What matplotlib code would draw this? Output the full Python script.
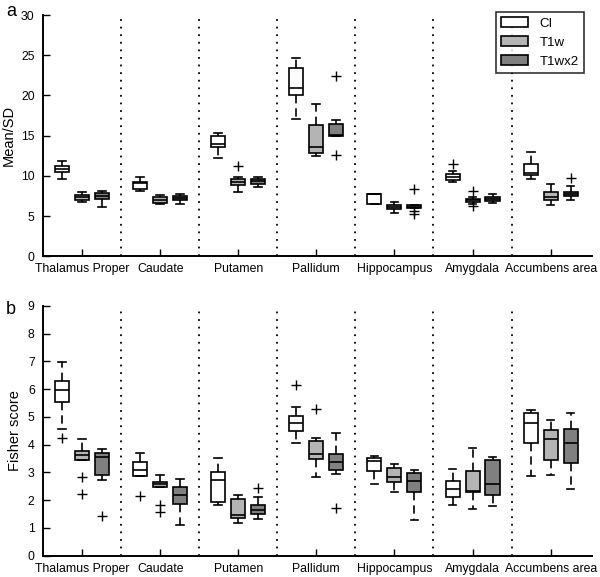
import matplotlib
matplotlib.use("Agg")
import matplotlib.pyplot as plt
from matplotlib.patches import Patch

plt.rcParams["font.family"] = ["Liberation Sans", "DejaVu Sans"]

REGIONS = ["Thalamus Proper", "Caudate", "Putamen", "Pallidum",
           "Hippocampus", "Amygdala", "Accumbens area"]
METHODS = ["CI", "T1w", "T1wx2"]
COLORS = ["#ffffff", "#b4b4b4", "#808080"]

# panel a: Mean/SD  -- rows are CI, T1w, T1wx2; columns follow REGIONS
A_WHISHI = [[11.87, 9.86, 15.35, 24.65, 7.80, 10.65, 12.93],
            [7.96, 7.59, 9.90, 18.96, 6.76, 7.42, 9.03],
            [8.09, 7.76, 9.88, 16.90, 6.35, 7.71, 8.78]]
A_Q3 = [[11.21, 9.24, 14.94, 23.40, 7.76, 10.24, 11.44],
        [7.67, 7.43, 9.60, 16.30, 6.35, 7.17, 8.00],
        [7.92, 7.51, 9.60, 16.40, 6.35, 7.42, 8.04]]
A_MED = [[10.80, 9.07, 13.98, 20.90, 7.70, 9.82, 10.32],
         [7.35, 7.06, 9.25, 13.60, 6.14, 7.00, 7.42],
         [7.55, 7.30, 9.34, 15.06, 6.18, 7.13, 7.75]]
A_Q1 = [[10.43, 8.42, 13.60, 20.10, 6.56, 9.45, 10.07],
        [7.02, 6.60, 8.92, 12.86, 5.85, 6.80, 6.96],
        [7.10, 7.06, 8.96, 14.98, 6.05, 6.88, 7.50]]
A_WHISLO = [[9.57, 8.17, 12.28, 17.05, 6.47, 9.20, 9.61],
            [6.73, 6.52, 7.97, 12.53, 5.44, 6.55, 6.38],
            [6.11, 6.48, 8.63, 14.90, 5.95, 6.59, 6.96]]
A_FLIERS = [[[], [], [], [], [], [11.44], []],
            [[], [], [11.2], [], [], [8.15, 6.30], []],
            [[], [], [], [22.37, 12.6], [8.42, 5.64, 5.27], [], [9.74]]]

# panel b: Fisher score
B_WHISHI = [[6.98, 3.71, 3.53, 5.36, 3.58, 3.13, 5.25],
            [4.20, 2.92, 2.20, 4.24, 3.30, 3.87, 4.89],
            [3.86, 2.75, 2.11, 4.41, 3.07, 3.55, 5.15]]
B_Q3 = [[6.31, 3.36, 3.00, 5.04, 3.51, 2.69, 5.13],
        [3.78, 2.66, 2.04, 4.12, 3.17, 3.04, 4.52],
        [3.71, 2.49, 1.82, 3.65, 2.98, 3.45, 4.55]]
B_MED = [[5.95, 3.08, 2.72, 4.77, 3.41, 2.40, 4.77],
         [3.63, 2.60, 1.48, 3.65, 2.84, 2.34, 4.22],
         [3.57, 2.18, 1.64, 3.37, 2.69, 2.60, 4.07]]
B_Q1 = [[5.53, 2.88, 1.95, 4.49, 3.06, 2.11, 4.05],
        [3.43, 2.47, 1.37, 3.47, 2.64, 2.30, 3.43],
        [2.89, 1.87, 1.49, 3.07, 2.28, 2.18, 3.35]]
B_WHISLO = [[4.55, 2.88, 1.84, 4.06, 2.60, 1.84, 2.87],
            [3.43, 2.47, 1.19, 2.84, 2.30, 1.69, 2.92],
            [2.73, 1.11, 1.31, 2.96, 1.28, 1.80, 2.40]]
B_FLIERS = [[[4.23], [2.14], [], [6.16], [], [], []],
            [[2.83, 2.22], [1.83, 1.59], [], [5.30], [], [], []],
            [[1.42], [], [2.45], [1.72], [], [], []]]

OFFSETS = [-0.256, 0.0, 0.256]
BOXW = 0.18


def draw_panel(ax, whishi, q3, med, q1, whislo, fliers, ymax, ystep, ylabel):
    n = len(REGIONS)
    for m in range(len(METHODS)):
        stats = []
        for r in range(n):
            stats.append(dict(med=med[m][r], q1=q1[m][r], q3=q3[m][r],
                              whislo=whislo[m][r], whishi=whishi[m][r],
                              fliers=fliers[m][r]))
        pos = [r + 1 + OFFSETS[m] for r in range(n)]
        ax.bxp(stats, positions=pos, widths=BOXW, capwidths=BOXW * 0.55,
               patch_artist=True, manage_ticks=False,
               boxprops=dict(facecolor=COLORS[m], edgecolor="black", lw=1.2),
               medianprops=dict(color="black", lw=1.2),
               whiskerprops=dict(color="black", lw=1.2, ls=(0, (5, 3))),
               capprops=dict(color="black", lw=1.2),
               flierprops=dict(marker="+", markeredgecolor="black",
                               markersize=7, markeredgewidth=1.0, ls="none"))
    for s in range(1, n):
        ax.axvline(s + 0.5, color="black", ls=(0, (1, 3.2)), lw=1.3, zorder=0)
    ax.set_xlim(0.5, 7.53)
    ax.set_ylim(0, ymax)
    ax.set_yticks(range(0, ymax + 1, ystep))
    ax.set_xticks(range(1, n + 1))
    ax.set_xticklabels(REGIONS)
    ax.set_ylabel(ylabel, fontsize=10.5, labelpad=4)
    ax.tick_params(direction="in", length=5, width=1, labelsize=8.8,
                   colors="black")
    ax.tick_params(axis="y", pad=6)
    ax.tick_params(axis="x", pad=5)
    for sp in ("top", "right"):
        ax.spines[sp].set_visible(False)
    for sp in ("left", "bottom"):
        ax.spines[sp].set_linewidth(1.4)


fig = plt.figure(figsize=(6.0, 5.77), dpi=100)
ax_a = fig.add_axes([0.0717, 0.5558, 0.915, 0.4182])
ax_b = fig.add_axes([0.0717, 0.0369, 0.915, 0.4331])

draw_panel(ax_a, A_WHISHI, A_Q3, A_MED, A_Q1, A_WHISLO, A_FLIERS, 30, 5, "Mean/SD")
draw_panel(ax_b, B_WHISHI, B_Q3, B_MED, B_Q1, B_WHISLO, B_FLIERS, 9, 1, "Fisher score")

handles = [Patch(facecolor=c, edgecolor="black", lw=1.2, label=lab)
           for c, lab in zip(COLORS, METHODS)]
leg = ax_a.legend(handles=handles, loc="upper right", bbox_to_anchor=(0.985, 1.012),
                  borderaxespad=0, fancybox=False, fontsize=9.5, handlelength=2.0,
                  handleheight=0.75, labelspacing=0.5, borderpad=0.4,
                  handletextpad=0.9)
leg.get_frame().set_edgecolor("black")
leg.get_frame().set_linewidth(1.2)

fig.text(0.01, 0.995, "a", fontsize=13, va="top", ha="left")
fig.text(0.01, 0.478, "b", fontsize=13, va="top", ha="left")

fig.savefig("out.png", dpi=100)
